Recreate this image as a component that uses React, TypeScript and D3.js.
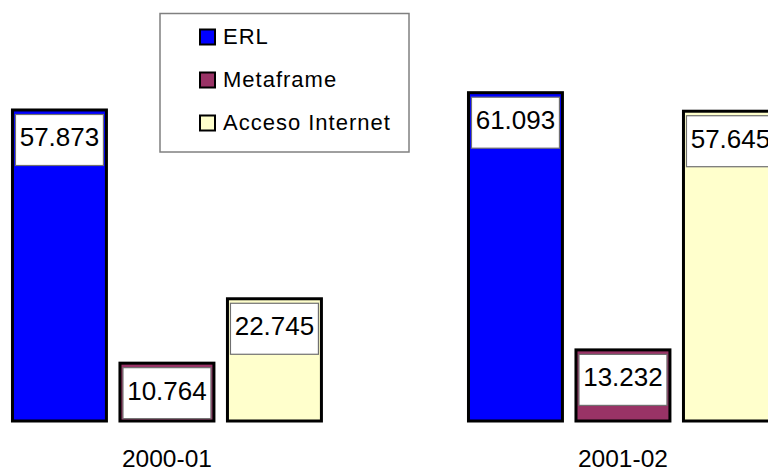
import React from "react";
import * as d3 from "d3";

const categories = ["2000-01", "2001-02"];
const seriesNames = ["ERL", "Metaframe", "Acceso Internet"];
const erlValues = [57.873, 61.093];
const metaframeValues = [10.764, 13.232];
const accesoValues = [22.745, 57.645];
const valueLabels = [
  ["57.873", "61.093"],
  ["10.764", "13.232"],
  ["22.745", "57.645"],
];
const colors = ["#0000FF", "#993366", "#FFFFCC"];

const W = 768;
const H = 468;

export default function App() {
  const seriesValues = [erlValues, metaframeValues, accesoValues];
  const x0 = d3
    .scaleBand<string>()
    .domain(categories)
    .range([5.7, 784.2])
    .paddingInner(0.2928)
    .paddingOuter(0);
  const x1 = d3
    .scaleBand<string>()
    .domain(seriesNames)
    .range([0, x0.bandwidth()])
    .paddingInner(0.098)
    .paddingOuter(0.049);
  const y = d3.scaleLinear().domain([0, 70]).range([421, 421 - 70 * 5.374]);
  const bw = x1.bandwidth();

  return (
    <svg
      width={W}
      height={H}
      style={{ position: "fixed", left: 0, top: 0, background: "#fff" }}
      fontFamily="'Liberation Sans', Arial, sans-serif"
    >
      <rect x={0} y={0} width={W} height={H} fill="#fff" />
      {categories.map((c, ci) => (
        <g key={c} transform={`translate(${x0(c)},0)`}>
          {seriesNames.map((s, si) => {
            const v = seriesValues[si][ci];
            const bx = x1(s)! + 1.5;
            const by = y(v);
            const bh = y(0) - y(v);
            const boxX = bx + 3;
            const boxY = by + 4.5;
            const boxW = bw - 9;
            const boxH = 51;
            return (
              <g key={s}>
                <rect
                  x={bx}
                  y={by}
                  width={bw - 3}
                  height={bh}
                  fill={colors[si]}
                  stroke="#000"
                  strokeWidth={3}
                />
                <rect
                  x={boxX}
                  y={boxY}
                  width={boxW}
                  height={boxH}
                  fill="#fff"
                  stroke="#707070"
                  strokeWidth={1.2}
                />
                <text
                  x={boxX + boxW / 2}
                  y={boxY + 32}
                  textAnchor="middle"
                  fontSize={26}
                  fill="#000"
                >
                  {valueLabels[si][ci]}
                </text>
              </g>
            );
          })}
          <text
            x={x0.bandwidth() / 2}
            y={467}
            textAnchor="middle"
            fontSize={24.5}
            fill="#000"
          >
            {c}
          </text>
        </g>
      ))}
      <g>
        <rect
          x={160}
          y={13.5}
          width={249}
          height={138.5}
          fill="#fff"
          stroke="#808080"
          strokeWidth={1.5}
        />
        {seriesNames.map((s, i) => {
          const baseY = 44 + i * 43;
          return (
            <g key={s}>
              <rect
                x={200}
                y={baseY - 14.5}
                width={15}
                height={15}
                fill={colors[i]}
                stroke="#000"
                strokeWidth={2}
              />
              <text
                x={223}
                y={baseY}
                fontSize={22}
                letterSpacing={1}
                fill="#000"
              >
                {s}
              </text>
            </g>
          );
        })}
      </g>
    </svg>
  );
}
